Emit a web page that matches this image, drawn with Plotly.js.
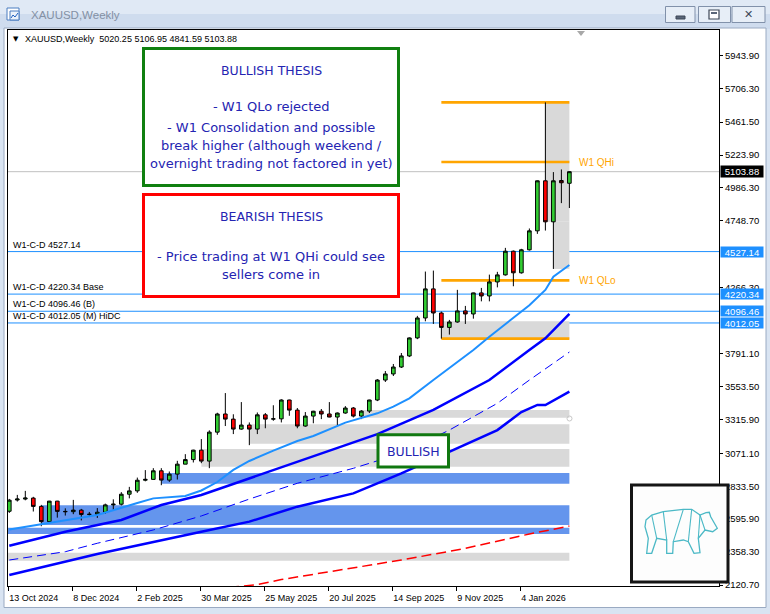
<!DOCTYPE html>
<html><head><meta charset="utf-8">
<script src="https://cdn.plot.ly/plotly-3.0.1.min.js"></script>
<style>html,body{margin:0;padding:0;background:#d9e4f2;overflow:hidden}#chart{width:770px;height:614px}</style>
</head><body><div id="chart"></div>
<script>
// ---------- DATA ----------
const dates = ['2024-10-13','2024-10-20','2024-10-27','2024-11-03','2024-11-10','2024-11-17','2024-11-24','2024-12-01','2024-12-08','2024-12-15',
'2024-12-22','2024-12-29','2025-01-05','2025-01-12','2025-01-19','2025-01-26','2025-02-02','2025-02-09','2025-02-16','2025-02-23',
'2025-03-02','2025-03-09','2025-03-16','2025-03-23','2025-03-30','2025-04-06','2025-04-13','2025-04-20','2025-04-27','2025-05-04',
'2025-05-11','2025-05-18','2025-05-25','2025-06-01','2025-06-08','2025-06-15','2025-06-22','2025-06-29','2025-07-06','2025-07-13',
'2025-07-20','2025-07-27','2025-08-03','2025-08-10','2025-08-17','2025-08-24','2025-08-31','2025-09-07','2025-09-14','2025-09-21',
'2025-09-28','2025-10-05','2025-10-12','2025-10-19','2025-10-26','2025-11-02','2025-11-09','2025-11-16','2025-11-23','2025-11-30',
'2025-12-07','2025-12-14','2025-12-21','2025-12-28','2026-01-04','2026-01-11','2026-01-18','2026-01-25','2026-02-01','2026-02-08',
'2026-02-15'];
const open = [2653,2734,2741,2748,2688,2578,2726,2652,2650,2661,
2630,2631,2646,2699,2704,2776,2800,2877,2883,2945,
2878,2921,2993,3026,3094,3015,3224,3355,3318,3246,
3275,3246,3349,3318,3320,3456,3383,3268,3340,3375,
3355,3333,3362,3398,3340,3376,3456,3600,3644,3694,
3774,3904,4048,4258,4084,3980,4019,4099,4077,4229,
4207,4308,4359,4530,4374,4540,4677,5038,4742,5040,
5020.25];
const high = [2742,2771,2800,2757,2699,2728,2728,2674,2735,2670,
2648,2676,2708,2739,2791,2829,2896,2950,2964,2964,
2940,3017,3065,3097,3174,3237,3364,3506,3353,3441,
3294,3366,3362,3418,3461,3458,3398,3369,3378,3391,
3441,3366,3412,3405,3383,3458,3607,3665,3716,3795,
3908,4063,4383,4390,4094,4034,4251,4135,4231,4265,
4361,4381,4554,4535,4547,4694,5041,5604,5101,5120,
5106.95];
const low = [2641,2723,2732,2651,2545,2571,2607,2622,2632,2587,
2612,2605,2634,2663,2695,2746,2786,2869,2882,2841,
2865,2882,2993,3005,3000,2964,3205,3268,3210,3241,
3130,3210,3252,3306,3294,3342,3252,3263,3288,3318,
3331,3272,3357,3330,3318,3362,3448,3586,3629,3687,
3766,3895,4024,4005,3899,3928,4014,4005,4043,4168,
4168,4269,4354,4277,4368,4535,4655,4679,4402,4877,
4841.59];
const close = [2733,2741,2748,2688,2578,2726,2652,2650,2661,2630,
2631,2646,2699,2704,2776,2800,2877,2883,2945,2878,
2921,2993,3026,3094,3015,3224,3355,3318,3246,3275,
3246,3349,3318,3320,3456,3383,3268,3340,3375,3355,
3333,3362,3398,3340,3376,3456,3600,3644,3694,3774,
3904,4048,4258,4084,3980,4019,4099,4077,4229,4207,
4308,4359,4530,4374,4540,4677,5038,4742,5038,5024,
5103.88];

const xTickDates = ['2024-10-13','2024-12-08','2025-02-02','2025-03-30','2025-05-25','2025-07-20','2025-09-14','2025-11-09','2026-01-04'];
const xTickLabels = ['13 Oct 2024','8 Dec 2024','2 Feb 2025','30 Mar 2025','25 May 2025','20 Jul 2025','14 Sep 2025','9 Nov 2025','4 Jan 2026'];
const priceTicks = [5943.90,5706.30,5461.50,5223.90,4986.30,4748.70,4266.30,3791.10,3553.50,3315.90,3071.10,2833.50,2595.90,2358.30,2120.70];

// moving averages, read at sampled bars (bar index -> value)
const maLightIdx = [0,5,11,16,18,22,24,26,28,30,33,36,38,42,44,46,48,50,53,58,60,62,65,67,68,70];
const maLight    = [2521,2570,2626,2712,2746,2763,2803,2864,2951,3016,3091,3160,3196,3293,3324,3360,3408,3468,3600,3817,3913,4005,4140,4250,4346,4430];
const maUpperIdx = [0,7,14,19,24,30,40,46,53,60,65,67,70];
const maUpper    = [2404,2505,2590,2698,2770,2891,3088,3210,3384,3600,3817,3901,4077];
const maDashIdx  = [0,7,11,18,24,30,36,43,49,55,61,65,70];
const maDash     = [2301,2361,2422,2518,2619,2741,2855,2963,3071,3239,3432,3600,3802];
const maLowerIdx = [0,11,24,30,36,43,49,55,61,64,66,67,70];
const maLower    = [2193,2344,2505,2578,2686,2782,2927,3083,3239,3369,3420,3420,3516];
const maRedIdx   = [20,28,31,34,40,49,57,65,70];
const maRed      = [2060,2105,2124,2160,2217,2301,2385,2489,2546];

// horizontal levels
const levelValues = [4527.14,4220.34,4096.46,4012.05];
const levelLabels = ['W1-C-D 4527.14','W1-C-D 4220.34 Base','W1-C-D 4096.46 (B)','W1-C-D 4012.05 (M) HiDC'];
const lastPrice = 5103.88;
// quarterly orange levels (start bar index 54)
const qValues = [5604,5173.7,4319.8,3898.4];
const qLabels = ['','W1 QHi','W1 QLo',''];
const qStart = 54;
// zones: start date, top, bottom (all end at last bar)
const greyStart = ['2026-01-25','2026-02-01','2025-10-26','2025-08-17','2025-05-11','2025-03-30','2024-09-01'];
const greyTop   = [5604,4742,4025,3383.7,3280.5,3102.3,2353.8];
const greyBot   = [4742,4402,3898.4,3328.1,3140.5,2974.5,2296];
const blueStart = ['2025-02-23','2024-11-10','2024-09-01'];
const blueTop   = [2929,2695.8,2534.2];
const blueBot   = [2851.8,2553.7,2488.8];

const headerText = 'XAUUSD,Weekly  5020.25 5106.95 4841.59 5103.88';
const bullLines = ['BULLISH THESIS','- W1 QLo rejected','- W1 Consolidation and possible','break higher (although weekend /','overnight trading not factored in yet)'];
const bearLines = ['BEARISH THESIS','- Price trading at W1 QHi could see','sellers come in'];

// ---------- LAYOUT HELPERS ----------
const W=770,H=614,L=8,R=719,T=30,B=586;
const px = x => (x-L)/(R-L);
const py = y => (B-y)/(B-T);
const WEEK = 7*864e5;
const base = Date.parse(dates[0]+'T00:00:00Z');
const iso = ms => new Date(ms).toISOString().replace('T',' ').slice(0,19);
const xRange = [iso(base-0.1625*WEEK), iso(base+88.7*WEEK)];
const tickShift = d => iso(Date.parse(d+'T00:00:00Z')-0.14*WEEK);
const FONT = 'Liberation Sans, Arial, sans-serif';
const BOXFONT = 'DejaVu Sans, Verdana, sans-serif';
const TXT = '#2424b2';

const shapes = [];
const ann = [];
function prect(x0,y0,x1,y1,fill,lc,lw,layer){shapes.push({type:'rect',xref:'paper',yref:'paper',x0:px(x0),x1:px(x1),y0:py(y1),y1:py(y0),fillcolor:fill,line:{color:lc||'rgba(0,0,0,0)',width:lw||0},layer:layer||'above'});}
function ppath(pts,closed,fill,lc,lw,layer){let d='M'+pts.map(p=>px(p[0])+','+py(p[1])).join(' L')+(closed?' Z':'');shapes.push({type:'path',xref:'paper',yref:'paper',path:d,fillcolor:fill||'rgba(0,0,0,0)',line:{color:lc||'rgba(0,0,0,0)',width:lw||0},layer:layer||'above'});}
function ptext(x,y,text,size,color,anchor,family){ann.push({xref:'paper',yref:'paper',x:px(x),y:py(y),text:text,showarrow:false,xanchor:anchor||'left',yanchor:'middle',font:{size:size,color:color,family:family||FONT}});}

// window chrome (below)
prect(0,0,770,14,'#e0e9f5',null,0,'below');
prect(0,14,770,29,'#cfdcee',null,0,'below');
prect(4,28,766,607.5,'#ffffff','#9aaac2',1,'below');
// zones
greyStart.forEach((s,i)=>shapes.push({type:'rect',xref:'x',yref:'y',x0:s,x1:dates[70],y0:greyBot[i],y1:greyTop[i],fillcolor:'#d9d9d9',line:{width:0},layer:'below'}));
blueStart.forEach((s,i)=>shapes.push({type:'rect',xref:'x',yref:'y',x0:s,x1:dates[70],y0:blueBot[i],y1:blueTop[i],fillcolor:'#6495ed',line:{width:0},layer:'below'}));
// current price line
shapes.push({type:'line',xref:'paper',yref:'y',x0:0,x1:1,y0:lastPrice,y1:lastPrice,line:{color:'#c0c0c0',width:1},layer:'below'});
// levels
levelValues.forEach((v,i)=>{
  shapes.push({type:'line',xref:'paper',yref:'y',x0:0,x1:1,y0:v,y1:v,line:{color:'#1e90ff',width:1},layer:'below'});
  ann.push({xref:'paper',yref:'y',x:px(11),y:v,yshift:7,text:levelLabels[i],showarrow:false,xanchor:'left',yanchor:'middle',font:{size:9,color:'#000',family:FONT}});
  ann.push({xref:'paper',yref:'y',x:px(720),y:v,text:v.toFixed(2),showarrow:false,xanchor:'left',yanchor:'middle',width:42,height:10,bgcolor:'#1e90ff',borderpad:0,font:{size:9.5,color:'#fff',family:FONT}});
});
ann.push({xref:'paper',yref:'y',x:px(720),y:lastPrice,text:lastPrice.toFixed(2),showarrow:false,xanchor:'left',yanchor:'middle',width:42,height:11,bgcolor:'#000',borderpad:0,font:{size:9.5,color:'#fff',family:FONT}});
// orange levels
qValues.forEach((v,i)=>{
  shapes.push({type:'line',xref:'x',yref:'y',x0:dates[qStart],x1:dates[70],y0:v,y1:v,line:{color:'#ffa500',width:2.7},layer:'below'});
  if(qLabels[i]) ann.push({xref:'paper',yref:'y',x:px(577),y:v,text:qLabels[i],showarrow:false,xanchor:'left',yanchor:'middle',font:{size:10,color:'#ffa500',family:FONT}});
});
shapes.push({type:'circle',xref:'paper',yref:'paper',x0:px(567),x1:px(572),y0:py(421),y1:py(416),line:{color:'#c8c8c8',width:1},fillcolor:'rgba(0,0,0,0)',layer:'above'});

// title bar elements
prect(7,8,19,20,'#ffffff','#4a7cc0',1);
prect(10,11,19,20,'#eaf2fb','#4a7cc0',1);
ppath([[11,18],[13,15],[15,17],[18,13]],false,null,'#2060c0',1);
ptext(29,15,'XAUUSD,Weekly',11.5,'#8390a4','left',FONT);
[[665.5,695],[698.5,730.5],[732,765]].forEach(b=>prect(b[0],6.5,b[1],22.5,'#e7eef7','#8191aa',1));
prect(676,16,685,19,'#5a6678','#3c4656',1);
prect(709,10,719,19,'#ffffff','#3c4656',1.2);
prect(711,12,717,14,'#5a6678',null,0);
ptext(748.5,14.5,'✕',11,'#3c4656','center','DejaVu Sans');
// shift marker
ppath([[577,31],[585,31],[581,36]],true,'#a8a8a8',null,0);
// header
ptext(11,39,'▼',7,'#000','left','DejaVu Sans');
ptext(23,39,headerText,9,'#000');

// thesis boxes
prect(143.5,48.5,398.5,185.5,'#ffffff','#108010',3);
prect(143.5,194.5,398.5,296.5,'#ffffff','#ff0000',3);
prect(378,434.7,448.5,467,'#ffffff','#107810',3);
const bullY=[70,106,127,145,164], bearY=[216,256,274];
bullLines.forEach((t,i)=>ptext(271,bullY[i],t,i===0?12.5:13,TXT,'center',BOXFONT));
bearLines.forEach((t,i)=>ptext(271,bearY[i],t,i===0?12.5:13,TXT,'center',BOXFONT));
ptext(413.3,451,'BULLISH',12.5,TXT,'center',BOXFONT);

// logo
prect(631.5,485,728,582,'#fdfdfd','#151515',3);
const V={A:[646,520],B:[651.7,515],C:[663.3,511.7],D:[683.3,509.3],E:[691.7,509.3],F:[700,515],G:[706,512.7],Hh:[709.3,512.3],I:[710.7,516.7],J:[717.3,528.3],K:[712.7,531.7],Lj:[705,530],M:[698.3,538.3],N:[700,552.7],O:[694,553.3],P:[688.3,541.7],Q:[683.3,540],Rb:[673.3,541.7],S:[672.7,553.3],Tt:[666.7,553.3],U:[666.7,540],Vv:[656.7,538.3],Ww:[651.7,553.3],X:[646.7,553.3],Y:[648.3,538.3],Z:[645,526.7]};
const outline=['A','B','C','D','E','F','G','Hh','I','J','K','Lj','M','N','O','P','Q','Rb','S','Tt','U','Vv','Ww','X','Y','Z'].map(k=>V[k]);
const BEAR='#4cb9c6';
ppath(outline,true,null,BEAR,1.3);
[['C','U'],['D','Rb'],['F','M'],['F','Lj'],['B','Vv'],['E','P']].forEach(e=>ppath([V[e[0]],V[e[1]]],false,null,BEAR,1.1));

// ---------- TRACES ----------
const pick = idx => idx.map(i=>dates[i]);
const traces = [
 {type:'scatter',mode:'lines',x:pick(maRedIdx),y:maRed,line:{color:'#ff0000',width:1.5,dash:'10px,5px'}},
 {type:'scatter',mode:'lines',x:pick(maLowerIdx),y:maLower,line:{color:'#0000ff',width:2.5}},
 {type:'scatter',mode:'lines',x:pick(maDashIdx),y:maDash,line:{color:'#0000ff',width:1,dash:'9px,5px'}},
 {type:'scatter',mode:'lines',x:pick(maUpperIdx),y:maUpper,line:{color:'#0000ff',width:2.5}},
 {type:'scatter',mode:'lines',x:pick(maLightIdx),y:maLight,line:{color:'#1e90ff',width:2}},
 {type:'candlestick',x:dates,open:open,high:high,low:low,close:close,whiskerwidth:0,
  increasing:{line:{color:'#000',width:1},fillcolor:'#32cd32'},
  decreasing:{line:{color:'#000',width:1},fillcolor:'#ff0000'}}
];

const layout = {
 width:W,height:H,margin:{l:L,r:W-R,t:T,b:H-B,pad:0},
 paper_bgcolor:'#d9e4f2',plot_bgcolor:'#ffffff',showlegend:false,hovermode:false,
 font:{family:FONT,size:9,color:'#000'},
 xaxis:{type:'date',range:xRange,showgrid:false,zeroline:false,showline:true,linecolor:'#000',linewidth:1,mirror:true,
   tickvals:xTickDates.map(tickShift),ticktext:xTickLabels,ticks:'outside',ticklen:4,tickcolor:'#000',
   ticklabelposition:'outside right',ticklabelstandoff:3,tickfont:{size:9,color:'#000',family:FONT},rangeslider:{visible:false},fixedrange:true},
 yaxis:{side:'right',range:[2113.5,6126.5],showgrid:false,zeroline:false,showline:true,linecolor:'#000',linewidth:1,mirror:true,
   tickvals:priceTicks,ticktext:priceTicks.map(v=>v.toFixed(2)),ticks:'outside',ticklen:3,tickcolor:'#000',ticklabelstandoff:0,
   tickfont:{size:9.5,color:'#000',family:FONT},fixedrange:true},
 boxgap:0.35,
 shapes:shapes,annotations:ann
};
Plotly.newPlot('chart',traces,layout,{staticPlot:true,displayModeBar:false});
</script></body></html>
